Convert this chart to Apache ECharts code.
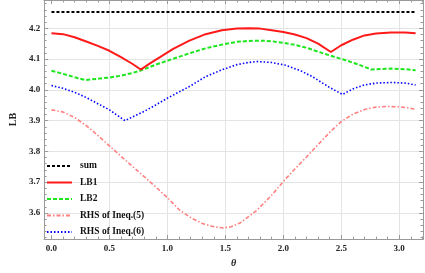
<!DOCTYPE html>
<html><head><meta charset="utf-8">
<script src="https://cdn.jsdelivr.net/npm/echarts@6/dist/echarts.min.js"></script>
<style>html,body{margin:0;padding:0;background:#fff}#c{width:425px;height:273px}</style>
</head><body><div id="c"></div>
<script>
// ---- data ----
const sumTheta = [0, 3.1416];
const sumValues = [4.253, 4.253];

const lb1Theta = [0,0.1,0.2,0.3,0.4,0.5,0.6,0.7,0.77,0.85,0.94,1.05,1.19,1.33,1.47,1.6,1.7,1.8,1.9,2.0,2.1,2.2,2.3,2.41,2.5,2.6,2.7,2.8,2.93,3.05,3.1416];
const lb1Values = [4.184,4.181,4.171,4.157,4.143,4.127,4.106,4.084,4.066,4.086,4.107,4.133,4.160,4.181,4.194,4.199,4.200,4.199,4.194,4.188,4.180,4.168,4.150,4.123,4.145,4.163,4.177,4.183,4.186,4.186,4.184];

const lb2Theta = [0,0.1,0.2,0.29,0.4,0.5,0.6,0.7,0.78,0.9,1.05,1.2,1.33,1.47,1.6,1.7,1.8,1.9,2.0,2.1,2.2,2.3,2.4,2.54,2.65,2.76,2.85,2.93,3.05,3.1416];
const lb2Values = [4.062,4.052,4.041,4.032,4.036,4.040,4.046,4.055,4.064,4.082,4.101,4.120,4.135,4.147,4.156,4.159,4.160,4.158,4.153,4.146,4.137,4.124,4.112,4.096,4.082,4.066,4.068,4.069,4.067,4.064];

const rhs5Theta = [0,0.1,0.2,0.3,0.4,0.5,0.6,0.7,0.8,0.9,1.0,1.1,1.2,1.3,1.4,1.48,1.55,1.63,1.7,1.77,1.9,2.0,2.1,2.2,2.3,2.4,2.5,2.6,2.7,2.8,2.9,3.0,3.1,3.1416];
const rhs5Values = [3.935,3.928,3.910,3.884,3.852,3.818,3.784,3.751,3.718,3.684,3.650,3.611,3.585,3.566,3.555,3.551,3.555,3.568,3.588,3.608,3.658,3.702,3.743,3.782,3.822,3.862,3.897,3.921,3.936,3.944,3.946,3.945,3.940,3.936];

const rhs6Theta = [0,0.1,0.2,0.3,0.4,0.5,0.634,0.7,0.8,0.9,1.0,1.1,1.2,1.33,1.47,1.6,1.7,1.77,1.9,2.02,2.15,2.25,2.39,2.51,2.6,2.7,2.8,2.94,3.05,3.1416];
const rhs6Values = [4.014,4.005,3.992,3.975,3.955,3.935,3.900,3.912,3.930,3.951,3.973,3.993,4.013,4.043,4.065,4.082,4.089,4.092,4.089,4.080,4.062,4.043,4.010,3.985,4.003,4.016,4.022,4.024,4.022,4.016];

const seriesNames = ['sum','LB1','LB2','RHS of Ineq.(5)','RHS of Ineq.(6)'];

const xMajorTicks = [0,0.5,1.0,1.5,2.0,2.5,3.0];
const xGridLines = [0.5,1.0,1.5,2.0,2.5,3.0];
const yMajorTicks = [3.6,3.7,3.8,3.9,4.0,4.1,4.2];
const xMin = -0.063, xMax = 3.205, yMin = 3.515, yMax = 4.292;

// minor ticks (positions only)
const xMinorTicks = [];
for (let i = 0; i <= 32; i++) { if (i % 5 !== 0) xMinorTicks.push(+(i*0.1).toFixed(2)); }
const yMinorTicks = [];
for (let i = 176; i <= 214; i++) { if (i % 5 !== 0) yMinorTicks.push(+(i*0.02).toFixed(2)); }

// ---- chart ----
const frame = '#9a9a9a';
const font = 'Liberation Serif';
const lblStyle = {fontFamily: font, fontWeight: 'bold', fontSize: 9, color: '#222'};

function xAx(pos, ticks, len, opts) {
  return Object.assign({
    type: 'value', position: pos, min: xMin, max: xMax,
    axisLine: {show: true, onZero: false, lineStyle: {color: frame, width: 1}},
    axisTick: {show: true, inside: true, length: len, customValues: ticks, lineStyle: {color: frame, width: 1}},
    axisLabel: {show: false, customValues: ticks},
    splitLine: {show: false}
  }, opts || {});
}
function yAx(pos, ticks, len, opts) {
  return Object.assign({
    type: 'value', position: pos, min: yMin, max: yMax,
    axisLine: {show: true, onZero: false, lineStyle: {color: frame, width: 1}},
    axisTick: {show: true, inside: true, length: len, customValues: ticks, lineStyle: {color: frame, width: 1}},
    axisLabel: {show: false, customValues: ticks},
    splitLine: {show: false}
  }, opts || {});
}

const pair = (t, v) => t.map((x, i) => [x, v[i]]);

const option = {
  animation: false,
  backgroundColor: '#fff',
  grid: {left: 28, right: 2, top: 0, bottom: 29, containLabel: false},
  xAxis: [
    xAx('bottom', xMajorTicks, 4, {
      name: 'θ', nameLocation: 'middle', nameGap: 18,
      nameTextStyle: {fontFamily: font, fontStyle: 'italic', fontWeight: 'bold', fontSize: 10, color: '#222'},
      axisLabel: {show: true, customValues: xMajorTicks, margin: 5, formatter: v => v.toFixed(1), ...lblStyle}
    }),
    xAx('bottom', xMinorTicks, 2.5),
    xAx('top', xMajorTicks, 4),
    xAx('top', xMinorTicks, 2.5),
    xAx('bottom', xGridLines, 0, {
      axisLine: {show: false}, z: 0,
      axisTick: {show: false, customValues: xGridLines},
      splitLine: {show: true, lineStyle: {color: '#e4e4e4', width: 1}}
    })
  ],
  yAxis: [
    yAx('left', yMajorTicks, 4, {
      name: 'LB', nameLocation: 'middle', nameGap: 16, nameRotate: 90,
      nameTextStyle: {fontFamily: font, fontWeight: 'bold', fontSize: 10, color: '#222'},
      axisLabel: {show: true, customValues: yMajorTicks, margin: 4, formatter: v => v.toFixed(1), ...lblStyle},
      splitLine: {show: true, lineStyle: {color: '#e4e4e4', width: 1}}
    }),
    yAx('left', yMinorTicks, 2.5),
    yAx('right', yMajorTicks, 4),
    yAx('right', yMinorTicks, 2.5)
  ],
  legend: {
    orient: 'vertical', left: 41, top: 156,
    itemWidth: 25, itemHeight: 10, itemGap: 6.5,
    data: seriesNames,
    itemStyle: {opacity: 0},
    textStyle: {fontFamily: font, fontWeight: 'bold', fontSize: 9.5, color: '#111', padding: [0,0,0,3]}
  },
  series: [
    {name: seriesNames[0], type: 'line', data: pair(sumTheta, sumValues), symbol: 'none', z: 5,
     lineStyle: {color: '#000', width: 2, type: [3, 2]}, itemStyle: {color: '#000'}},
    {name: seriesNames[1], type: 'line', data: pair(lb1Theta, lb1Values), symbol: 'none', z: 4,
     lineStyle: {color: '#ff1a1a', width: 2}, itemStyle: {color: '#ff1a1a'}},
    {name: seriesNames[2], type: 'line', data: pair(lb2Theta, lb2Values), symbol: 'none', z: 3,
     lineStyle: {color: '#1ee61e', width: 2, type: [4, 2]}, itemStyle: {color: '#1ee61e'}},
    {name: seriesNames[3], type: 'line', data: pair(rhs5Theta, rhs5Values), symbol: 'none', z: 2,
     lineStyle: {color: '#ff8080', width: 1.6, type: [4, 2, 1.5, 2]}, itemStyle: {color: '#ff8080'}},
    {name: seriesNames[4], type: 'line', data: pair(rhs6Theta, rhs6Values), symbol: 'none', z: 2,
     lineStyle: {color: '#0000ff', width: 1.6, type: [1.5, 2]}, itemStyle: {color: '#0000ff'}}
  ]
};
const chart = echarts.init(document.getElementById('c'), null, {renderer: 'canvas'});
chart.setOption(option);
</script>
</body></html>
